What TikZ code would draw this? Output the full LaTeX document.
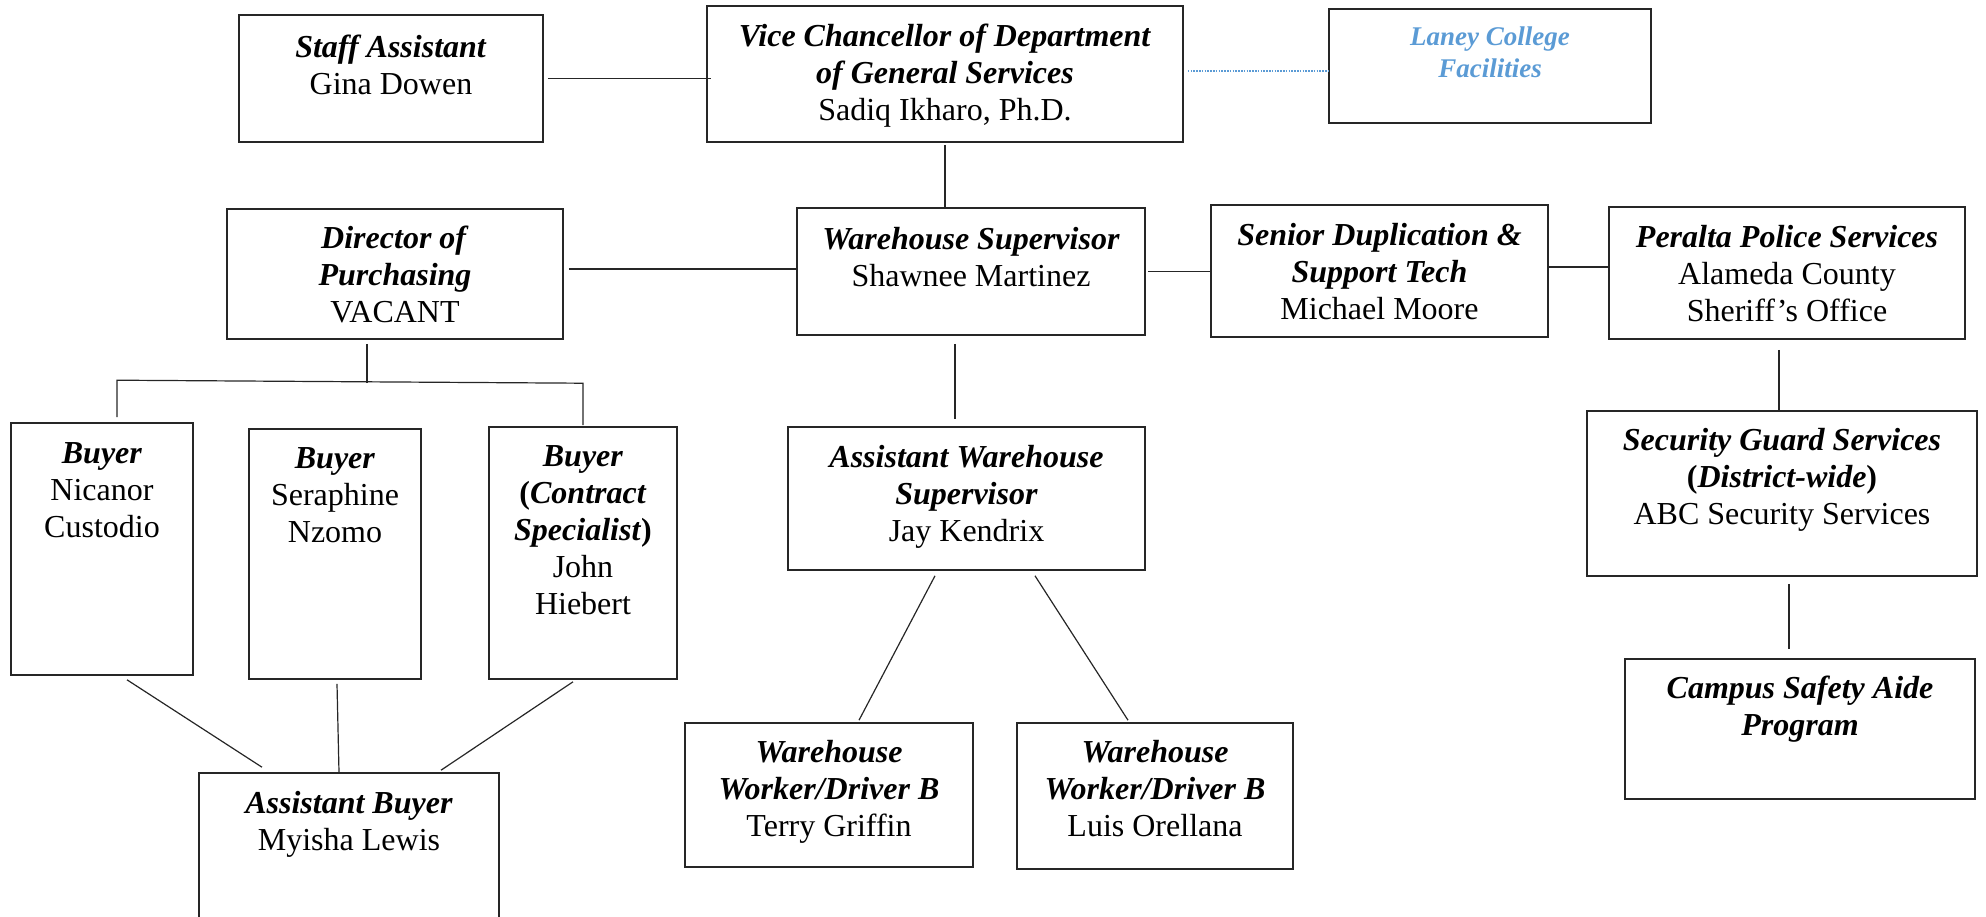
\documentclass[tikz,border=0pt]{standalone}
\usepackage{fontspec}
\setmainfont{Liberation Serif}
\usetikzlibrary{fit}
\definecolor{lblue}{RGB}{91,155,213}
\newcommand\tbi[1]{\textbf{\textit{#1}}}
\newcommand\fstrut{\rule{0pt}{20pt}}
\begin{document}
\begin{tikzpicture}[x=0.5pt,y=-0.5pt,
  box/.style={draw=black!85, line width=0.8pt, inner sep=0pt},
  txt/.style={anchor=north, inner sep=0pt, align=center, font=\fontsize{16pt}{18.5pt}\selectfont},
  conn/.style={draw=black!85, line width=0.6pt},
  dotconn/.style={draw=lblue, line width=0.8pt, dash pattern=on 0.8pt off 0.6pt}]
\useasboundingbox (0,0) rectangle (1986,916);
\clip (0,0) rectangle (1986,916);

% boxes
\node[box, fit={(239,15) (543,142)}] (staff) {};
\node[box, fit={(707,6) (1183,142)}] (vc) {};
\node[box, fit={(1329,9) (1651,123)}] (laney) {};
\node[box, fit={(227,209) (563,339)}] (dir) {};
\node[box, fit={(797,208) (1145,335)}] (ws) {};
\node[box, fit={(1211,205) (1548,337)}] (sen) {};
\node[box, fit={(1609,207) (1965,339)}] (per) {};
\node[box, fit={(11,423) (193,675)}] (nic) {};
\node[box, fit={(249,429) (421,679)}] (ser) {};
\node[box, fit={(489,427) (677,679)}] (con) {};
\node[box, fit={(199,773) (499,960)}] (ab) {};
\node[box, fit={(788,427) (1145,570)}] (aws) {};
\node[box, fit={(685,723) (973,867)}] (terry) {};
\node[box, fit={(1017,723) (1293,869)}] (luis) {};
\node[box, fit={(1587,411) (1977,576)}] (sec) {};
\node[box, fit={(1625,659) (1975,799)}] (camp) {};

% texts
\node[txt] (staff-t) at (staff.north) {\rule{0pt}{21.5pt}\tbi{Staff Assistant}\\Gina Dowen};
\node[txt] (vc-t) at (vc.north) {\rule{0pt}{20.5pt}\tbi{Vice Chancellor of Department}\\\tbi{of General Services}\\Sadiq Ikharo, Ph.D.};
\node[txt, font=\fontsize{13.5pt}{16pt}\selectfont, text=lblue] (laney-t) at (laney.north) {\rule{0pt}{18.5pt}\tbi{Laney College}\\\tbi{Facilities}};
\node[txt] (dir-t) at (dir.north) {\fstrut\tbi{Director of}\\\tbi{Purchasing}\\VACANT};
\node[txt] (ws-t) at (ws.north) {\rule{0pt}{21pt}\tbi{Warehouse Supervisor}\\Shawnee Martinez};
\node[txt] (sen-t) at (sen.north) {\rule{0pt}{20.5pt}\tbi{Senior Duplication \&}\\\tbi{Support Tech}\\Michael Moore};
\node[txt] (per-t) at (per.north) {\rule{0pt}{20.5pt}\tbi{Peralta Police Services}\\Alameda County\\Sheriff’s Office};
\node[txt] (nic-t) at (nic.north) {\rule{0pt}{20.5pt}\tbi{Buyer}\\Nicanor\\Custodio};
\node[txt] (ser-t) at (ser.north) {\fstrut\tbi{Buyer}\\Seraphine\\Nzomo};
\node[txt] (con-t) at (con.north) {\fstrut\tbi{Buyer}\\\textbf{(}\tbi{Contract}\\\tbi{Specialist}\textbf{)}\\John\\Hiebert};
\node[txt] (ab-t) at (ab.north) {\rule{0pt}{20.5pt}\tbi{Assistant Buyer}\\Myisha Lewis};
\node[txt] (aws-t) at (aws.north) {\rule{0pt}{20.5pt}\tbi{Assistant Warehouse}\\\tbi{Supervisor}\\Jay Kendrix};
\node[txt] (terry-t) at (terry.north) {\fstrut\tbi{Warehouse}\\\tbi{Worker/Driver B}\\Terry Griffin};
\node[txt] (luis-t) at (luis.north) {\fstrut\tbi{Warehouse}\\\tbi{Worker/Driver B}\\Luis Orellana};
\node[txt] (sec-t) at (sec.north) {\fstrut\tbi{Security Guard Services}\\\textbf{(}\tbi{District-wide}\textbf{)}\\ABC Security Services};
\node[txt] (camp-t) at (camp.north) {\fstrut\tbi{Campus Safety Aide}\\\tbi{Program}};

% connectors
\draw[conn] ([xshift=2pt]staff.east) -- ([xshift=2.5pt]staff.east -| vc.west);
\coordinate (vcl) at ([shift={(4,-3)}]vc.east);
\draw[dotconn] (vcl) -- (vcl -| laney.west);
\draw[conn] ([yshift=-1pt]vc.south) -- (vc.south |- ws.north);
\coordinate (dws) at ([shift={(5,-5)}]dir.east);
\draw[conn] (dws) -- (dws -| ws.west);
\draw[conn] ([xshift=1pt]ws.east) -- (ws.east -| sen.west);
\coordinate (sp) at ([shift={(0,-4)}]sen.east);
\draw[conn] (sp) -- (sp -| per.west);

% purchasing bracket
\draw[conn] ([shift={(-28,4)}]dir.south) -- ([shift={(-28,43)}]dir.south);
\draw[conn] ([shift={(15,-5)}]nic.north) -- ([shift={(15,-42)}]nic.north)
   -- ([shift={(0,-43)}]con.north) -- ([shift={(0,-1)}]con.north);

% buyers to assistant buyer
\draw[conn] ([shift={(25,4)}]nic.south) -- ([shift={(-87,-5)}]ab.north);
\draw[conn] ([shift={(2,4)}]ser.south) -- ([shift={(-10,0)}]ab.north);
\draw[conn] ([shift={(-10,2)}]con.south) -- ([shift={(92,-2)}]ab.north);

% warehouse
\draw[conn] ([shift={(-16,8)}]ws.south) -- ([shift={(-11.5,-7)}]aws.north);
\draw[conn] ([shift={(-31.5,5)}]aws.south) -- ([shift={(30,-2)}]terry.north);
\draw[conn] ([shift={(68.5,5)}]aws.south) -- ([shift={(-27,-2)}]luis.north);

% police
\draw[conn] ([shift={(-8,10)}]per.south) -- ([shift={(-3,0)}]sec.north);
\draw[conn] ([shift={(7,7)}]sec.south) -- ([shift={(-11,-9)}]camp.north);
\end{tikzpicture}
\end{document}
